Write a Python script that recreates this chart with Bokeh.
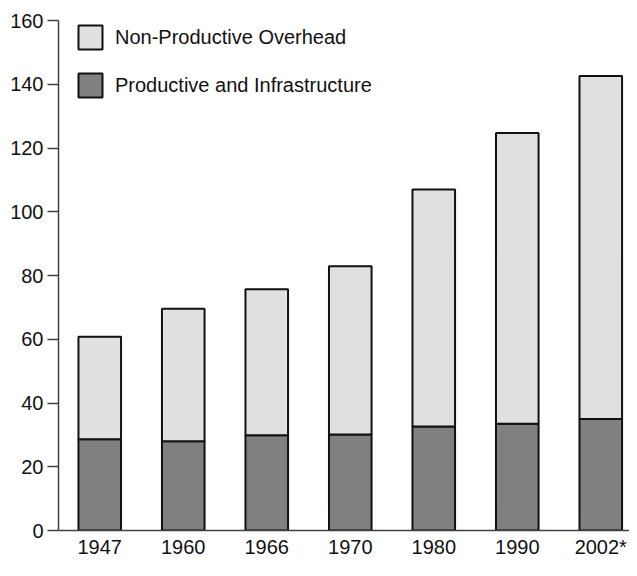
from bokeh.plotting import figure
from bokeh.models import Range1d, FixedTicker, Legend, LegendItem, ColumnDataSource
from bokeh.embed import file_html
from bokeh.resources import INLINE

years = ["1947", "1960", "1966", "1970", "1980", "1990", "2002*"]
productive = [28.6, 28.0, 29.9, 30.1, 32.6, 33.5, 35.0]
totals = [60.8, 69.6, 75.7, 82.9, 107.0, 124.7, 142.6]
overhead = [t - p for t, p in zip(totals, productive)]
y_ticks = [0, 20, 40, 60, 80, 100, 120, 140, 160]

xs = list(range(len(years)))
source = ColumnDataSource(dict(x=xs, productive=productive, overhead=overhead))

FONT = "Liberation Sans"
FS = "20px"

W, H = 629, 560
TOP, BOTTOM, LEFT = 20, 28, 58

p = figure(width=W, height=H, output_backend="svg", toolbar_location=None,
           x_range=Range1d(-0.494, 6.344), y_range=Range1d(0, 160),
           min_border_left=LEFT, min_border_right=0, min_border_top=TOP,
           min_border_bottom=BOTTOM)

rends = p.vbar_stack(["productive", "overhead"], x="x", width=0.51, source=source,
                     fill_color=["#808080", "#e0e0e0"], line_color="#111111",
                     line_width=2)

p.xgrid.visible = False
p.ygrid.visible = False
p.outline_line_color = None

ax = p.xaxis[0]
ax.ticker = FixedTicker(ticks=xs)
ax.major_label_overrides = {i: y for i, y in enumerate(years)}
ax.major_tick_out = 0
ax.major_tick_in = 0
ax.minor_tick_out = 0
ax.minor_tick_in = 0
ax.axis_line_color = "#404040"
ax.axis_line_width = 1.5
ax.major_label_text_font = FONT
ax.major_label_text_font_size = FS
ax.major_label_text_color = "#111111"
ax.major_label_standoff = 5

ay = p.yaxis[0]
ay.ticker = FixedTicker(ticks=y_ticks)
ay.major_tick_out = 11
ay.major_tick_in = 0
ay.minor_tick_out = 0
ay.minor_tick_in = 0
ay.major_tick_line_color = "#404040"
ay.major_tick_line_width = 1.5
ay.axis_line_color = "#404040"
ay.axis_line_width = 1.5
ay.major_label_text_font = FONT
ay.major_label_text_font_size = FS
ay.major_label_text_color = "#111111"
ay.major_label_standoff = 4

frame_h = H - TOP - BOTTOM
legend = Legend(items=[LegendItem(label="Non-Productive Overhead", renderers=[rends[1]]),
                       LegendItem(label="Productive and Infrastructure", renderers=[rends[0]])],
                location=(17, frame_h - 4 - 78))
legend.glyph_width = 30
legend.glyph_height = 30
legend.spacing = 18
legend.padding = 0
legend.margin = 0
legend.label_standoff = 10
legend.label_text_font = FONT
legend.label_text_font_size = FS
legend.label_text_color = "#111111"
legend.border_line_color = None
legend.background_fill_alpha = 0
p.add_layout(legend)

open("out.html", "w").write(file_html(p, INLINE))
